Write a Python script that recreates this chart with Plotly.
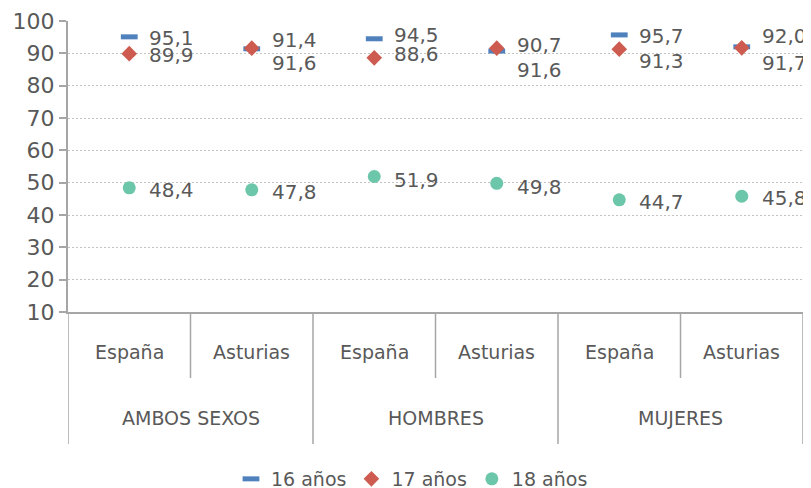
import plotly.graph_objects as go

groups = ["AMBOS SEXOS", "HOMBRES", "MUJERES"]
regions = ["España", "Asturias"]
series_names = ["16 años", "17 años", "18 años"]
v16 = [95.1, 91.4, 94.5, 90.7, 95.7, 92.0]
v17 = [89.9, 91.6, 88.6, 91.6, 91.3, 91.7]
v18 = [48.4, 47.8, 51.9, 49.8, 44.7, 45.8]
y_ticks = [10, 20, 30, 40, 50, 60, 70, 80, 90, 100]

# label vertical nudges in pixels (positive = down), style only
nudge16 = [1, -9, -4, -6, 1, -11]
nudge17 = [1, 15, -4, 22, 12, 15]
nudge18 = [2, 2, 3, 4, 2, 2]

FONT = "DejaVu Sans"
TXT = "#595959"
AX = "#A6A6A6"
colors = ["#4F81BD", "#CD5B4F", "#6CC6A9"]

n = len(groups) * len(regions)
xs = list(range(n))

fig = go.Figure()
fig.add_trace(go.Scatter(x=xs, y=v16, mode="markers", name=series_names[0],
                         marker=dict(symbol="line-ew", size=12, color=colors[0],
                                     line=dict(width=5, color=colors[0]))))
fig.add_trace(go.Scatter(x=xs, y=v17, mode="markers", name=series_names[1],
                         marker=dict(symbol="diamond", size=12, color=colors[1])))
fig.add_trace(go.Scatter(x=xs, y=v18, mode="markers", name=series_names[2],
                         marker=dict(symbol="circle", size=13, color=colors[2])))

def fmt(v):
    return f"{v:.1f}".replace(".", ",")

for vals, nud in [(v16, nudge16), (v17, nudge17), (v18, nudge18)]:
    for i, v in enumerate(vals):
        fig.add_annotation(x=i, y=v, xref="x", yref="y", text=fmt(v), showarrow=False,
                           xanchor="left", yanchor="middle", xshift=18, yshift=-nud[i],
                           font=dict(family=FONT, size=20, color=TXT))

# page is offset by the 8px body margin; plot area spans page y 21..312
plot_h = 312 - 21
def py(px):
    return (312 - px) / plot_h

# category labels and dividers
for gi, g in enumerate(groups):
    for ri, r in enumerate(regions):
        k = gi * len(regions) + ri
        fig.add_annotation(x=k, y=py(352), xref="x", yref="paper", text=r, showarrow=False,
                           xanchor="center", yanchor="middle",
                           font=dict(family=FONT, size=19, color=TXT))
    center = gi * len(regions) + (len(regions) - 1) / 2
    fig.add_annotation(x=center, y=py(418), xref="x", yref="paper", text=g, showarrow=False,
                       xanchor="center", yanchor="middle",
                       font=dict(family=FONT, size=19, color=TXT))

for b in range(n + 1):
    xb = b - 0.5
    full = (b % len(regions) == 0)
    fig.add_shape(type="line", xref="x", yref="paper", x0=xb, x1=xb,
                  y0=0, y1=py(444) if full else py(378),
                  line=dict(color=AX, width=1.5))

fig.update_layout(
    width=803, height=480,
    margin=dict(l=60, r=8, t=13, b=176, autoexpand=False),
    paper_bgcolor="white", plot_bgcolor="white",
    font=dict(family=FONT, size=19, color=TXT),
    showlegend=True,
    legend=dict(orientation="h", x=0.468, xanchor="center", y=py(479), yanchor="middle",
                font=dict(family=FONT, size=19, color=TXT), itemwidth=30,
                tracegroupgap=0),
)
fig.update_xaxes(range=[-0.5, n - 0.5], showticklabels=False, showgrid=False,
                 zeroline=False, showline=True, linecolor=AX, linewidth=2, ticks="",
                 automargin=False)
fig.update_yaxes(range=[10, 100], tickvals=y_ticks, showgrid=True, gridcolor="#C4C4C4",
                 griddash="2px,2px", gridwidth=1, zeroline=False, showline=True,
                 linecolor=AX, linewidth=2, ticks="outside", ticklen=7, tickwidth=2,
                 tickcolor=AX, tickfont=dict(family=FONT, size=22, color=TXT),
                 automargin=False)

fig.write_html("out.html")
